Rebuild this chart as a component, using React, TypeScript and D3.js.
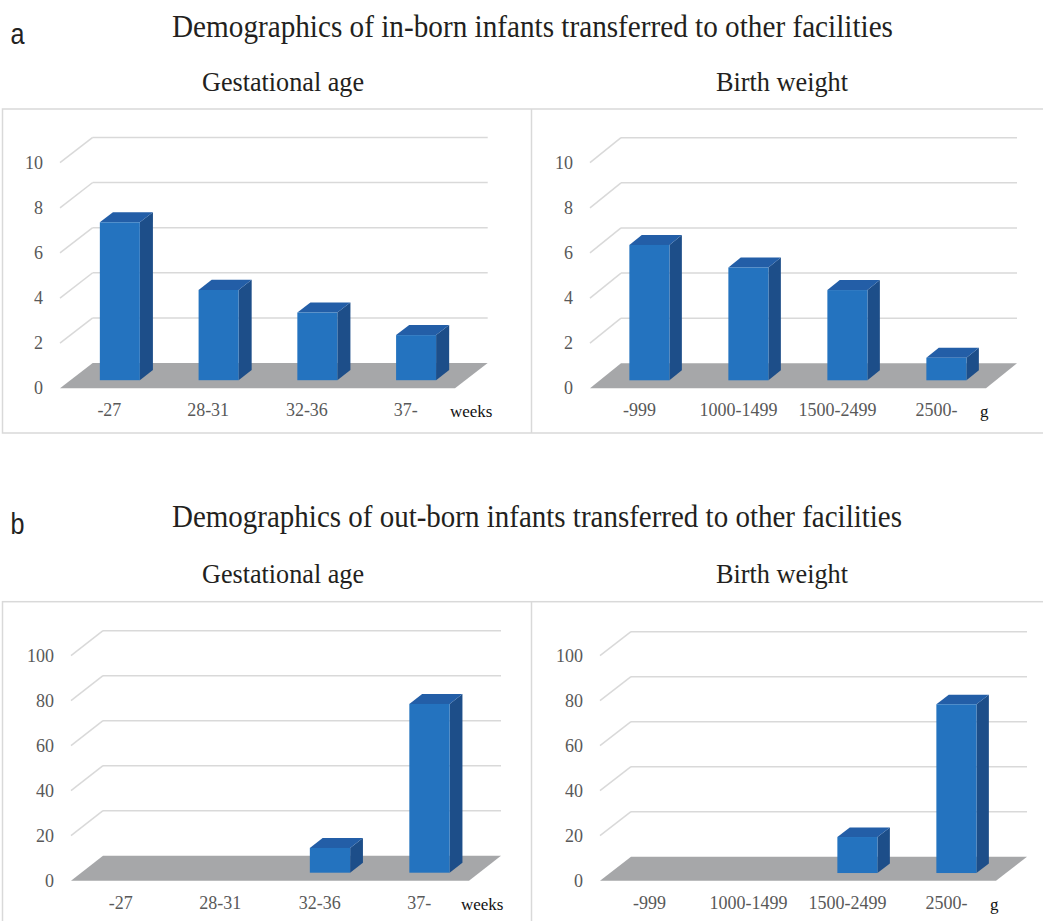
import * as d3 from "d3";

// categories
const gaCategories = ["-27", "28-31", "32-36", "37-"];
const bwCategories = ["-999", "1000-1499", "1500-2499", "2500-"];

// counts (a: in-born, b: out-born)
const inbornGA = [7, 4, 3, 2];
const inbornBW = [6, 5, 4, 1];
const outbornGA = [0, 0, 11, 75];
const outbornBW = [0, 0, 16, 75];

// y tick labels
const ticksSmall = [0, 2, 4, 6, 8, 10];
const ticksLarge = [0, 20, 40, 60, 80, 100];

const W = 1043;
const H = 921;

const frontColor = "#2473bf";
const sideColor = "#1d4e89";
const topColor = "#235ea7";
const floorColor = "#a6a7a9";
const gridColor = "#d9d9d9";
const tickColor = "#595959";
const serif = "'Liberation Serif', 'Times New Roman', serif";

// depth of the bars inside the floor (0 = front, 1 = back)
const z0 = 0.32;
const z1 = 0.72;

type PanelProps = {
  x0: number; // front-left corner of the floor
  y0: number;
  w: number;
  h: number; // px height of the max tick on the front plane
  dx: number; // depth offset
  dy: number;
  ticks: number[];
  categories: string[];
  values: number[];
  unit: string;
};

function Panel({ x0, y0, w, h, dx, dy, ticks, categories, values, unit }: PanelProps) {
  const maxV = ticks[ticks.length - 1];
  const y = d3.scaleLinear().domain([0, maxV]).range([y0, y0 - h]);
  const x = d3
    .scaleBand()
    .domain(categories)
    .range([x0, x0 + w])
    .paddingInner(0.595)
    .paddingOuter(0.2975);
  const bw = x.bandwidth();
  const ddx = (z1 - z0) * dx;
  const ddy = (z1 - z0) * dy;

  const floor = [
    [x0, y0],
    [x0 + w, y0],
    [x0 + w + dx, y0 - dy],
    [x0 + dx, y0 - dy],
  ];

  return (
    <g>
      {/* walls: gridlines */}
      {ticks
        .filter((t) => t !== 0)
        .map((t) => (
          <g key={t}>
            <line x1={x0} y1={y(t)} x2={x0 + dx} y2={y(t) - dy} stroke={gridColor} strokeWidth={1.5} />
            <line x1={x0 + dx} y1={y(t) - dy} x2={x0 + w + dx} y2={y(t) - dy} stroke={gridColor} strokeWidth={1.5} />
          </g>
        ))}
      <polygon points={floor.map((p) => p.join(",")).join(" ")} fill={floorColor} />
      {/* y tick labels */}
      {ticks.map((t) => (
        <text
          key={t}
          x={x0 - 17}
          y={y(t)}
          textAnchor="end"
          dominantBaseline="central"
          fontFamily={serif}
          fontSize={18}
          fill={tickColor}
        >
          {t}
        </text>
      ))}
      {/* bars */}
      {categories.map((c, i) => {
        const v = values[i];
        if (!v) return null;
        const fx = (x(c) as number) + z0 * dx;
        const fb = y0 - z0 * dy;
        const ft = y(v) - z0 * dy;
        const top = [
          [fx, ft],
          [fx + bw, ft],
          [fx + bw + ddx, ft - ddy],
          [fx + ddx, ft - ddy],
        ];
        const side = [
          [fx + bw, ft],
          [fx + bw + ddx, ft - ddy],
          [fx + bw + ddx, fb - ddy],
          [fx + bw, fb],
        ];
        return (
          <g key={c}>
            <polygon points={side.map((p) => p.join(",")).join(" ")} fill={sideColor} />
            <polygon points={top.map((p) => p.join(",")).join(" ")} fill={topColor} />
            <rect x={fx} y={ft} width={bw} height={fb - ft} fill={frontColor} />
          </g>
        );
      })}
      {/* category labels */}
      {categories.map((c) => (
        <text
          key={c}
          x={(x(c) as number) + bw / 2}
          y={y0 + 28}
          textAnchor="middle"
          fontFamily={serif}
          fontSize={18}
          fill={tickColor}
        >
          {c}
        </text>
      ))}
      <text x={x0 + 390} y={y0 + 29} fontFamily={serif} fontSize={17} fill="#111">
        {unit}
      </text>
    </g>
  );
}

function Heading({ letter, title, y, len }: { letter: string; title: string; y: number; len: number }) {
  return (
    <g>
      <text x={10.5} y={y + 7} fontFamily="'Liberation Sans', Arial, sans-serif" fontSize={29} fill="#222" textLength={14} lengthAdjust="spacingAndGlyphs">
        {letter}
      </text>
      <text x={172} y={y} fontFamily={serif} fontSize={31} fill="#231f20" textLength={len} lengthAdjust="spacingAndGlyphs">
        {title}
      </text>
    </g>
  );
}

function SubTitles({ y }: { y: number }) {
  return (
    <g fontFamily={serif} fontSize={27} fill="#231f20">
      <text x={202} y={y} textLength={162} lengthAdjust="spacingAndGlyphs">Gestational age</text>
      <text x={716} y={y} textLength={132} lengthAdjust="spacingAndGlyphs">Birth weight</text>
    </g>
  );
}

export default function App() {
  return (
    <div style={{ position: "absolute", left: 0, top: 0 }}>
      <svg width={W} height={H} style={{ display: "block", background: "#fff" }}>
        <Heading letter="a" title="Demographics of in-born infants transferred to other facilities" y={37} len={721} />
        <SubTitles y={91} />
        <rect x={2.5} y={109} width={1050} height={324} fill="none" stroke={gridColor} strokeWidth={1.5} />
        <line x1={531.5} y1={109} x2={531.5} y2={433} stroke={gridColor} strokeWidth={1.5} />
        <Panel x0={60} y0={388.3} w={395} h={225.6} dx={32.7} dy={25.3} ticks={ticksSmall} categories={gaCategories} values={inbornGA} unit="weeks" />
        <Panel x0={590} y0={388.3} w={396} h={225.6} dx={31} dy={25} ticks={ticksSmall} categories={bwCategories} values={inbornBW} unit="g" />

        <Heading letter="b" title="Demographics of out-born infants transferred to other facilities" y={527} len={730} />
        <SubTitles y={583} />
        <rect x={2.5} y={601.7} width={1050} height={340} fill="none" stroke={gridColor} strokeWidth={1.5} />
        <line x1={531.5} y1={601.7} x2={531.5} y2={921} stroke={gridColor} strokeWidth={1.5} />
        <Panel x0={71} y0={880.7} w={398} h={225} dx={32} dy={25} ticks={ticksLarge} categories={gaCategories} values={outbornGA} unit="weeks" />
        <Panel x0={600} y0={880.7} w={396} h={225} dx={31} dy={24} ticks={ticksLarge} categories={bwCategories} values={outbornBW} unit="g" />
      </svg>
    </div>
  );
}
